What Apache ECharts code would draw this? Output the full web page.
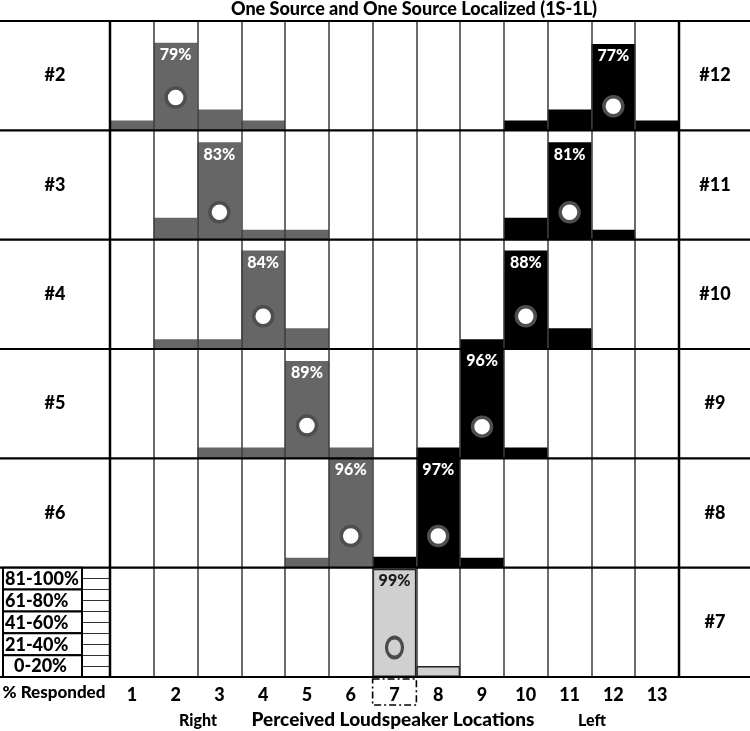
<!DOCTYPE html>
<html><head><meta charset="utf-8">
<script src="https://cdn.jsdelivr.net/npm/echarts@6/dist/echarts.min.js"></script>
<style>html,body{margin:0;padding:0;background:#fff}#c{width:750px;height:731px}</style>
</head><body><div id="c"></div>
<script>
// ---------- data ----------
const titleText = 'One Source and One Source Localized (1S-1L)';
const columns = ['1','2','3','4','5','6','7','8','9','10','11','12','13'];
const leftLabels = ['#2','#3','#4','#5','#6',''];
const rightLabels = ['#12','#11','#10','#9','#8','#7'];
const legendBands = ['81-100%','61-80%','41-60%','21-40%','0-20%'];
const X = '-';
// gray bars (sources #2-#6), bar heights
const grayRows = [
  [9,80,19,9,X,X,X,X,X,X,X,X,X],
  [X,20,89,9,9,X,X,X,X,X,X,X,X],
  [X,9,9,90,19,X,X,X,X,X,X,X,X],
  [X,X,10,10,89,10,X,X,X,X,X,X,X],
  [X,X,X,X,9,100,X,X,X,X,X,X,X],
  [X,X,X,X,X,X,X,X,X,X,X,X,X]
];
// black bars (sources #12-#8)
const blackRows = [
  [X,X,X,X,X,X,X,X,X,9,19,79,9],
  [X,X,X,X,X,X,X,X,X,20,89,9,X],
  [X,X,X,X,X,X,X,X,9,90,19,X,X],
  [X,X,X,X,X,X,X,10,100,10,X,X,X],
  [X,X,X,X,X,X,10,100,9,X,X,X,X],
  [X,X,X,X,X,X,X,X,X,X,X,X,X]
];
// light bars (source #7)
const lightRow = [X,X,X,X,X,X,99,10,X,X,X,X,X];
const grayPeakCol = [2,3,4,5,6];
const grayPeakText = ['79%','83%','84%','89%','96%'];
const grayCircleY = [30,25,30,30,29];
const blackPeakCol = [12,11,10,9,8];
const blackPeakText = ['77%','81%','88%','96%','97%'];
const blackCircleY = [22,25,30,29,29];
const lightPeakCol = 7, lightPeakText = '99%', lightCircleY = 27;
const bottomLeft = '% Responded';
const axisTitle = 'Perceived Loudspeaker Locations';
const rightWord = 'Right', leftWord = 'Left';

// ---------- layout ----------
const W = 750, Lx = 110, Rx = 679, T0 = 21, Bot = 677;
const nRows = 6, rowH = (Bot - T0) / nRows, colW = (Rx - Lx) / columns.length;
const FONT = 'Lato, "Open Sans", sans-serif';
const WT = '900';

const grids = [], xAxes = [], yAxes = [], series = [];
for (let r = 0; r < nRows; r++) {
  grids.push({left: Lx, width: Rx - Lx, top: T0 + r * rowH, height: rowH, containLabel: false});
  const last = r === nRows - 1;
  xAxes.push({
    type: 'category', gridIndex: r, data: columns, boundaryGap: true, z: 5,
    axisLine: {show: false}, axisTick: {show: false},
    axisLabel: {show: last, interval: 0, margin: 9, color: '#000', fontFamily: FONT, fontWeight: WT, fontSize: 18},
    splitLine: {show: true, interval: 0, lineStyle: {color: '#3a3a3a', width: 1.5}}
  });
  yAxes.push({
    type: 'value', gridIndex: r, min: 0, max: 100, interval: 10, show: last,
    axisLine: {show: false}, axisLabel: {show: false}, splitLine: {show: false},
    axisTick: {show: last, length: 28, lineStyle: {color: '#333', width: 1}}
  });
  const mkLabel = (peakCol, text, color) => ({
    show: true, position: 'insideTop', distance: 4, color: color,
    fontFamily: FONT, fontWeight: WT, fontSize: 16,
    formatter: p => (p.dataIndex === peakCol - 1 ? text : '')
  });
  if (r < 5) {
    series.push({type: 'bar', xAxisIndex: r, yAxisIndex: r, stack: 's' + r, barWidth: '100%',
      data: grayRows[r], itemStyle: {color: '#666666'}, z: 2,
      label: mkLabel(grayPeakCol[r], grayPeakText[r], '#fff')});
    series.push({type: 'bar', xAxisIndex: r, yAxisIndex: r, stack: 's' + r, barWidth: '100%',
      data: blackRows[r], itemStyle: {color: '#000'}, z: 2,
      label: mkLabel(blackPeakCol[r], blackPeakText[r], '#fff')});
    series.push({type: 'scatter', xAxisIndex: r, yAxisIndex: r, z: 4, symbolSize: 19,
      data: [[grayPeakCol[r] - 1, grayCircleY[r]], [blackPeakCol[r] - 1, blackCircleY[r]]],
      itemStyle: {color: '#fff', borderColor: '#4e4e4e', borderWidth: 3.5, opacity: 1}});
  } else {
    series.push({type: 'bar', xAxisIndex: r, yAxisIndex: r, stack: 's' + r, barWidth: '100%',
      data: lightRow, itemStyle: {color: '#d0d0d0', borderColor: '#222', borderWidth: 1.5}, z: 2,
      label: mkLabel(lightPeakCol, lightPeakText, '#1a1a1a')});
    series.push({type: 'scatter', xAxisIndex: r, yAxisIndex: r, z: 4, symbolSize: [16, 20],
      data: [[lightPeakCol - 1, lightCircleY]],
      itemStyle: {color: '#d0d0d0', borderColor: '#4a4a4a', borderWidth: 3.5, opacity: 1}});
  }
}

const g = [];
const txt = (text, x, y, size, align) => ({type: 'text', z: 20, silent: true,
  style: {text: text, x: x, y: y, fill: '#000', font: WT + ' ' + size + 'px ' + FONT,
    textAlign: align || 'center', textVerticalAlign: 'middle', align: align || 'center', verticalAlign: 'middle'}});
// horizontal rules
for (let r = 0; r <= nRows; r++) {
  const y = T0 + r * rowH;
  g.push({type: 'line', z: 15, silent: true, shape: {x1: 0, y1: y, x2: W, y2: y}, style: {stroke: '#000', lineWidth: 2.2}});
}
// vertical thick rules
[Lx, Rx].forEach(x => g.push({type: 'line', z: 15, silent: true, shape: {x1: x, y1: T0, x2: x, y2: Bot}, style: {stroke: '#000', lineWidth: 2.5}}));
// row labels
for (let r = 0; r < nRows; r++) {
  const cy = T0 + (r + 0.5) * rowH;
  if (leftLabels[r]) g.push(txt(leftLabels[r], Lx / 2, cy, 18));
  g.push(txt(rightLabels[r], (Rx + W) / 2 + 0.5, cy, 18));
}
// legend boxes
const lgTop = T0 + 5 * rowH, bandH = rowH / 5;
legendBands.forEach((s, k) => {
  const y = lgTop + k * bandH;
  g.push({type: 'rect', z: 16, silent: true, shape: {x: 3, y: y, width: 79, height: bandH},
    style: {fill: '#fff', stroke: '#000', lineWidth: 2}});
  const short = s.length < 6;
  g.push(txt(s, short ? 67 : 5, y + bandH / 2 + 0.5, 18, short ? 'right' : 'left'));
});
// dashed marker around the source location 7
g.push({type: 'rect', z: 16, silent: true, shape: {x: Lx + (lightPeakCol - 1) * colW, y: Bot + 2, width: colW, height: 26},
  style: {fill: 'none', stroke: '#000', lineWidth: 1.6, lineDash: [7, 3, 2, 3]}});
// texts
g.push(txt(titleText, 414, 9, 18));
g.push(txt(bottomLeft, 54, 693, 17));
g.push(txt(axisTitle, 393, 720, 19));
g.push(txt(rightWord, 198, 721, 16));
g.push(txt(leftWord, 592, 721, 16));

const chart = echarts.init(document.getElementById('c'), null, {renderer: 'canvas'});
chart.setOption({
  animation: false, backgroundColor: '#fff',
  grid: grids, xAxis: xAxes, yAxis: yAxes, series: series, graphic: g
});
</script></body></html>
